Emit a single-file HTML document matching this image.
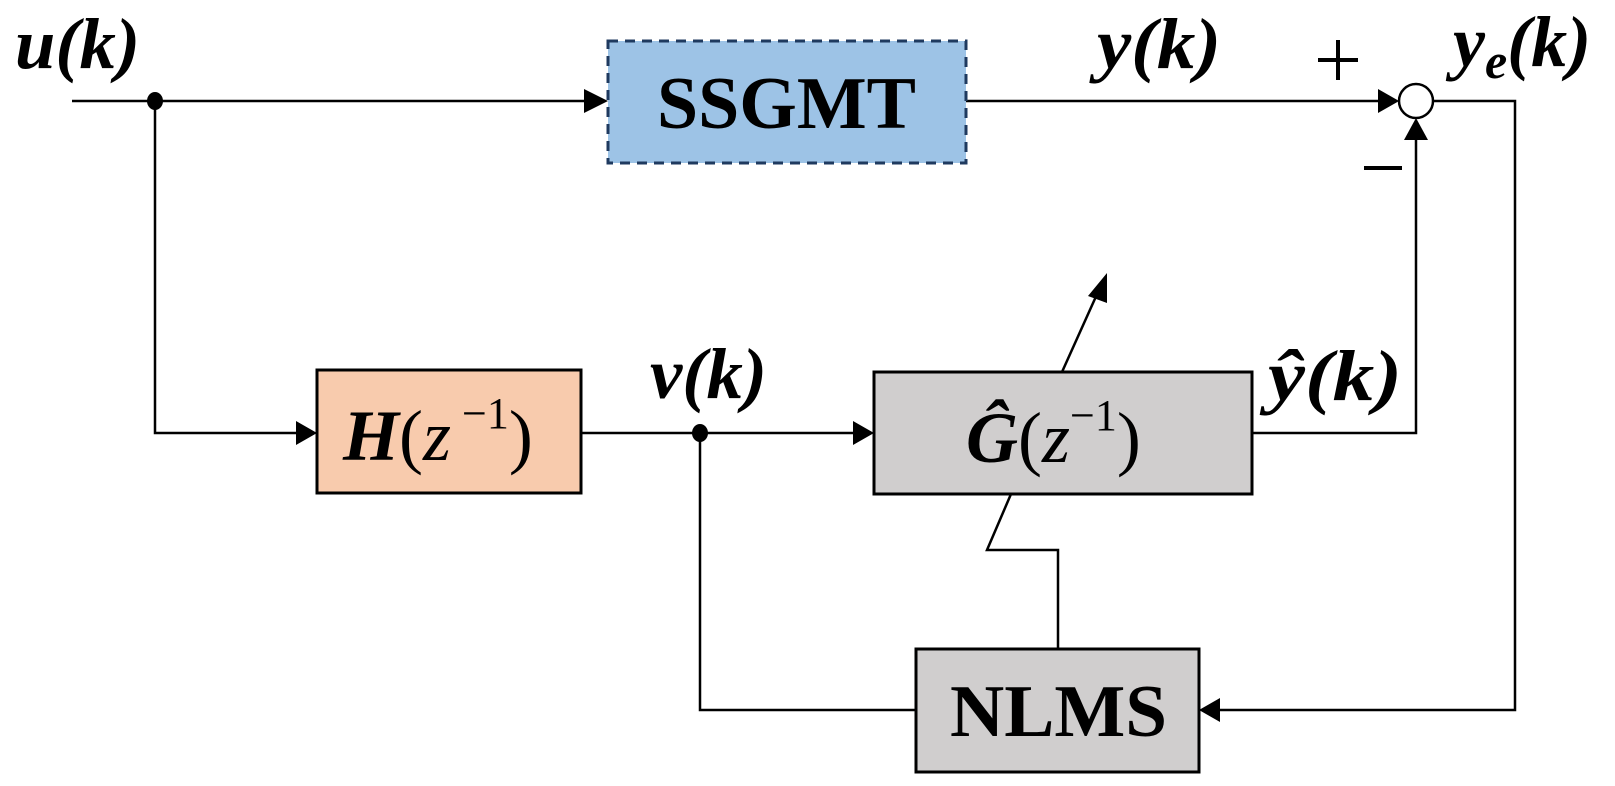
<!DOCTYPE html>
<html><head><meta charset="utf-8"><style>
html,body{margin:0;padding:0;background:#fff;}
svg{display:block;}
text{font-family:"Liberation Serif","Times New Roman",Times,serif;}
</style></head><body>
<svg width="1615" height="786" viewBox="0 0 1615 786" xmlns="http://www.w3.org/2000/svg">
<g stroke="#000" stroke-width="2.5" fill="none">
<line x1="72" y1="101" x2="588" y2="101"/>
<polyline points="155,101 155,433 300,433"/>
<line x1="966" y1="101" x2="1382" y2="101"/>
<polyline points="1433,101 1515,101 1515,710 1219,710"/>
<line x1="581" y1="433" x2="855" y2="433"/>
<polyline points="700,433 700,710 916,710"/>
<polyline points="1252,433 1416,433 1416,136"/>
<line x1="1062" y1="372" x2="1098" y2="292"/>
<polyline points="1011,494 987,550 1058,550 1058,649"/>
<circle cx="1416" cy="101" r="17" fill="#fff"/>
</g>
<g fill="#000">
<polygon points="608,101 584,89 584,113"/>
<polygon points="317,433 296,421 296,445"/>
<polygon points="874,433 853,421 853,445"/>
<polygon points="1399,101 1378,89 1378,113"/>
<polygon points="1416,118 1404,140 1428,140"/>
<polygon points="1199,710 1220,698 1220,722"/>
<polygon points="1107,273 1088,296 1107,303"/>
<ellipse cx="155" cy="101" rx="8" ry="9"/>
<ellipse cx="700" cy="433" rx="8" ry="9"/>
</g>
<rect x="608" y="41" width="358" height="122" fill="#9dc3e6" stroke="#1f3a5f" stroke-width="3" stroke-dasharray="10,7"/>
<rect x="317" y="370" width="264" height="123" fill="#f8cbad" stroke="#000" stroke-width="3"/>
<rect x="874" y="372" width="378" height="122" fill="#d0cece" stroke="#000" stroke-width="3"/>
<rect x="916" y="649" width="283" height="123" fill="#d0cece" stroke="#000" stroke-width="3"/>
<text x="657" y="128" font-size="74" font-weight="bold" textLength="259" lengthAdjust="spacingAndGlyphs">SSGMT</text>
<text x="950" y="736" font-size="74" font-weight="bold" textLength="217" lengthAdjust="spacingAndGlyphs">NLMS</text>
<text x="15" y="68" font-size="72" font-weight="bold" font-style="italic" textLength="125" lengthAdjust="spacingAndGlyphs">u(k)</text>
<text x="1097" y="68" font-size="72" font-weight="bold" font-style="italic" textLength="124" lengthAdjust="spacingAndGlyphs">y(k)</text>
<text x="1453" y="66" font-size="72" font-weight="bold" font-style="italic">y<tspan font-size="50" dy="12">e</tspan><tspan dy="-12">(k)</tspan></text>
<text x="650" y="398" font-size="72" font-weight="bold" font-style="italic" textLength="117" lengthAdjust="spacingAndGlyphs">v(k)</text>
<text x="1268" y="400" font-size="72" font-weight="bold" font-style="italic" textLength="134" lengthAdjust="spacingAndGlyphs">ŷ(k)</text>
<g stroke="#000" stroke-width="4"><line x1="1318" y1="60" x2="1358" y2="60"/><line x1="1338" y1="40" x2="1338" y2="80"/></g>
<rect x="1364" y="166" width="38" height="4" fill="#000"/>
<text x="343" y="460" font-size="72"><tspan font-weight="bold" font-style="italic">H</tspan><tspan>(</tspan><tspan font-style="italic">z</tspan><tspan font-size="44" dy="-32"> −1</tspan><tspan dy="32">)</tspan></text>
<text x="966" y="462" font-size="72"><tspan font-weight="bold" font-style="italic">Ĝ</tspan><tspan>(</tspan><tspan font-style="italic">z</tspan><tspan font-size="44" dy="-32">−1</tspan><tspan dy="32">)</tspan></text>
</svg>
</body></html>
